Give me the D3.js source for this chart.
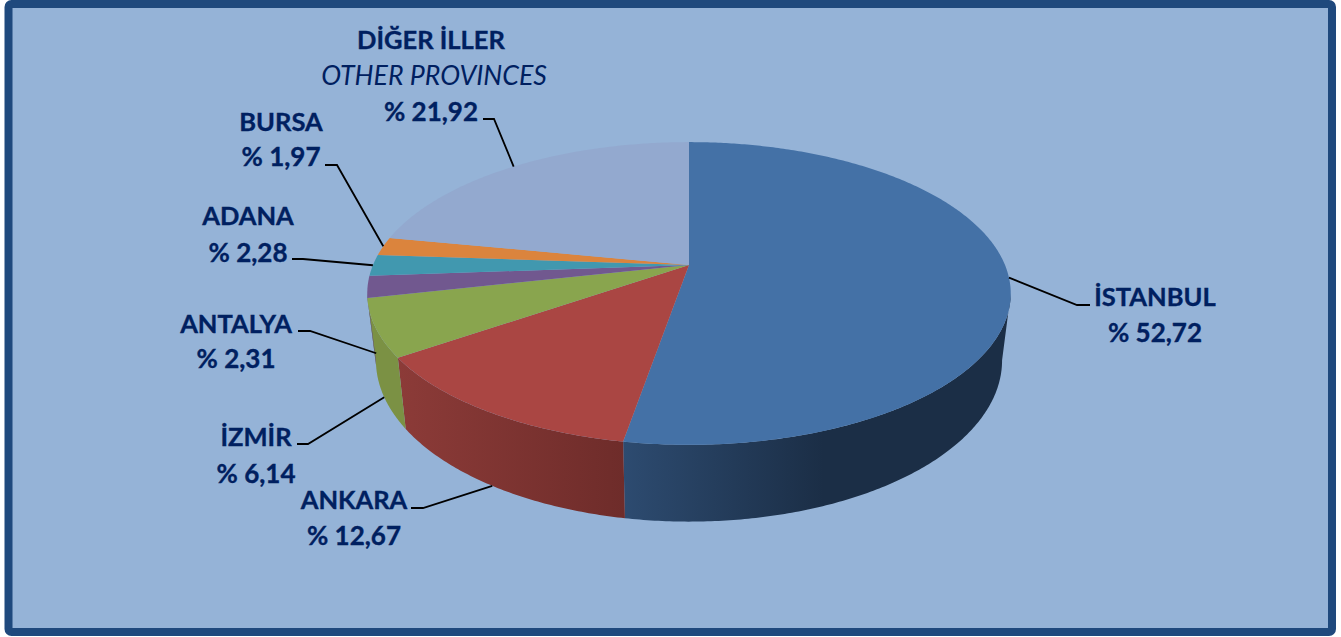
<!DOCTYPE html>
<html lang="tr">
<head>
<meta charset="UTF-8">
<title>Iller</title>
<script src="https://d3js.org/d3.v7.min.js"></script>
<style>
  html, body { margin: 0; background: #fff; }
  svg { display: block; }
  text { font-family: Lato, "Open Sans", sans-serif; fill: #002060; font-size: 26px; text-anchor: middle; }
  .name, .pct { font-weight: 700; stroke: #002060; stroke-width: 0.35px; }
  .name { font-size: 25.5px; }
  .sub { font-style: italic; font-weight: 400; font-size: 26.7px; }
</style>
</head>
<body>
<svg width="1341" height="637"></svg>
<script>
// pie data, clockwise from 12 o'clock
const cities = ["İSTANBUL", "ANKARA", "İZMİR", "ANTALYA", "ADANA", "BURSA", "DİĞER İLLER"];
const values = [52.72, 12.67, 6.14, 2.31, 2.28, 1.97, 21.92];
const valueLabels = ["% 52,72", "% 12,67", "% 6,14", "% 2,31", "% 2,28", "% 1,97", "% 21,92"];

const topColors = ["#4471a6", "#aa4643", "#89a54e", "#71588f", "#4198af", "#db843d", "#93a9cf"];
const sideFrom = ["#2d4b70", "#8c3b38", "#7b9144", "#5f4975", "#357d91", "#b56c35", "#7a8aad"];
const sideTo = ["#1b2e46", "#6e2c2a", "#7b9144", "#5f4975", "#357d91", "#b56c35", "#7a8aad"];

// label placement: text centre, first baseline, leader elbow and end
const labelX = [1155, 354, 256, 236, 248, 281, 431];
const labelY = [306, 509, 446, 333, 225, 131, 49];
const lineGap = [36, 36, 37, 35, 37, 35, 72];
const elbows = [[1077, 305], [423, 508], [308, 444], [310, 331], [303, 259], [337, 165], [494, 119]];
const leaderEnds = [[1090, 305], [411, 508], [297, 444], [298, 331], [292, 259], [325, 165], [483, 119]];
const leaderOnBase = [false, true, true, true, false, false, false];

const svg = d3.select("svg");
const defs = svg.append("defs");

// frame
svg.append("rect")
    .attr("x", 8.5).attr("y", 4)
    .attr("width", 1323.5).attr("height", 628)
    .attr("rx", 3)
    .attr("fill", "#95b3d7")
    .attr("stroke", "#1f497d")
    .attr("stroke-width", 8);

// tilted circle: near edge is drawn bigger than the far edge
const tilt = 0.188;
const topX = d3.scaleLinear().domain([-1, 1]).range([373, 1005]);
const topY = d3.scaleLinear().domain([-1, 1]).range([119, 411]);
const baseX = d3.scaleLinear().domain([-1, 1]).range([381.5, 996.5]);
const baseY = d3.scaleLinear().domain([-1, 1]).range([174.4, 485.6]);

function project(a, xs, ys) {
    const u = Math.sin(a), v = -Math.cos(a), s = 1 / (1 - tilt * v);
    return [xs(u * s), ys(v * s)];
}
const onTop = a => project(a, topX, topY);
const onBase = a => project(a, baseX, baseY);

function arcAngles(a0, a1) {
    const n = Math.max(2, Math.ceil((a1 - a0) / 0.01));
    return d3.range(n + 1).map(i => a0 + (a1 - a0) * i / n);
}

const line = d3.line();
const pie = d3.pie().sort(null).value(d => d);
const slices = pie(values);

// the side wall shows between the two silhouette angles
const wallStart = Math.acos(-tilt);
const wallEnd = 2 * Math.PI - wallStart;

const walls = svg.append("g");
slices.forEach((d, i) => {
    const a0 = Math.max(d.startAngle, wallStart);
    const a1 = Math.min(d.endAngle, wallEnd);
    if (a1 <= a0) return;
    const angles = arcAngles(a0, a1);
    const pts = angles.map(onTop).concat(angles.slice().reverse().map(onBase));
    const xs = pts.map(p => p[0]);
    // lighter toward the left end of each wall
    const grad = defs.append("linearGradient")
        .attr("id", "wall" + i)
        .attr("gradientUnits", "userSpaceOnUse")
        .attr("x1", d3.min(xs)).attr("x2", i === 0 ? d3.min(xs) + 200 : d3.max(xs))
        .attr("y1", 0).attr("y2", 0);
    grad.append("stop").attr("offset", 0).attr("stop-color", sideFrom[i]);
    grad.append("stop").attr("offset", 1).attr("stop-color", sideTo[i]);
    walls.append("path")
        .attr("d", line(pts) + "Z")
        .attr("fill", `url(#wall${i})`);
});

// top face
svg.append("g").selectAll("path")
    .data(slices)
    .enter().append("path")
    .attr("d", d => line([[topX(0), topY(0)]].concat(arcAngles(d.startAngle, d.endAngle).map(onTop))) + "Z")
    .attr("fill", (d, i) => topColors[i]);

// leaders start at the middle of each slice's rim
svg.append("g").selectAll("path")
    .data(slices)
    .enter().append("path")
    .attr("d", (d, i) => {
        const mid = (d.startAngle + d.endAngle) / 2;
        return line([(leaderOnBase[i] ? onBase : onTop)(mid), elbows[i], leaderEnds[i]]);
    })
    .attr("fill", "none")
    .attr("stroke", "#000")
    .attr("stroke-width", 1.8);

// labels
const labels = svg.append("g");
cities.forEach((c, i) => {
    labels.append("text").attr("class", "name")
        .attr("x", labelX[i]).attr("y", labelY[i]).text(c);
    labels.append("text").attr("class", "pct")
        .attr("x", labelX[i]).attr("y", labelY[i] + lineGap[i]).text(valueLabels[i]);
});
labels.append("text").attr("class", "sub")
    .attr("x", 434).attr("y", 85).text("OTHER PROVINCES");
</script>
</body>
</html>
